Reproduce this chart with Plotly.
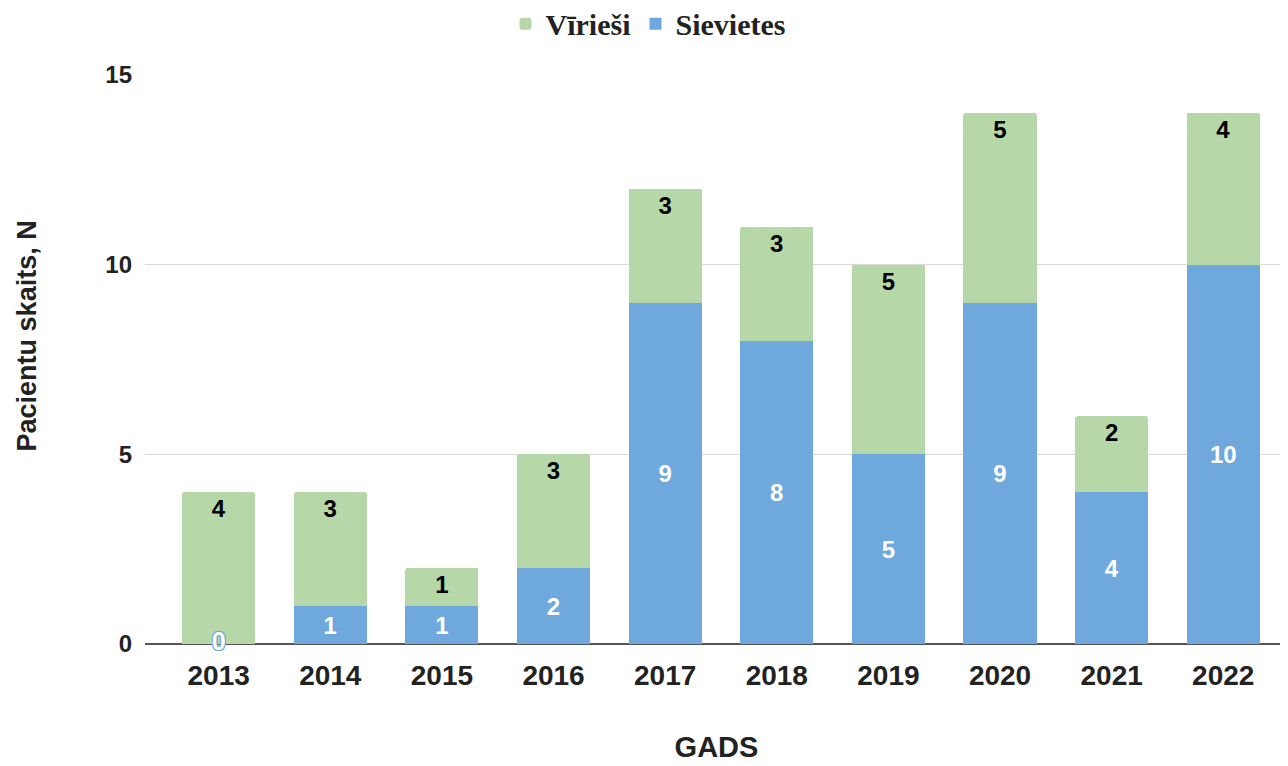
import plotly.graph_objects as go

years = ["2013", "2014", "2015", "2016", "2017", "2018", "2019", "2020", "2021", "2022"]
sievietes = [0, 1, 1, 2, 9, 8, 5, 9, 4, 10]
virieši = [4, 3, 1, 3, 3, 3, 5, 5, 2, 4]

BLUE = "#6fa8dc"
GREEN = "#b6d7a8"
SANS = "Arial, Liberation Sans"

fig = go.Figure()
fig.add_trace(go.Bar(
    x=years, y=sievietes, name="Sievietes",
    marker=dict(color=BLUE, line=dict(width=0)),
    text=[str(v) if v else "" for v in sievietes],
    textposition="inside", insidetextanchor="middle",
    textfont=dict(family=SANS, size=24, color="white", weight="bold"),
    constraintext="none",
))
fig.add_trace(go.Bar(
    x=years, y=virieši, name="Vīrieši",
    marker=dict(color=GREEN, line=dict(width=0), cornerradius=2),
    text=[str(v) for v in virieši],
    textposition="inside", insidetextanchor="end",
    textfont=dict(family=SANS, size=24, color="black", weight="bold"),
    constraintext="none",
))
zx = [y for y, v in zip(years, sievietes) if v == 0]
zy = [v for v in sievietes if v == 0]
sh = ", ".join(f"{a}px {b}px 0 {BLUE}" for a, b in [(1, 1), (-1, -1), (1, -1), (-1, 1), (0, 1), (0, -1), (1, 0), (-1, 0)])
fig.add_trace(go.Scatter(
    x=zx, y=zy, mode="text", text=[str(v) for v in zy], showlegend=False,
    textposition="middle center", cliponaxis=False, hoverinfo="skip",
    textfont=dict(family=SANS, size=25, color="white", weight="bold", shadow=sh),
))

fig.update_layout(
    width=1280, height=758,
    barmode="stack", bargap=0.345,
    plot_bgcolor="white", paper_bgcolor="white",
    margin=dict(l=137, r=0, t=67, b=122, autoexpand=False),
    legend=dict(orientation="h", xref="container", x=0.5, xanchor="center",
                yref="paper", y=1.09, yanchor="middle", traceorder="reversed",
                font=dict(family="Liberation Serif, Times New Roman, serif", size=30, color="#222", weight="bold"),
                itemwidth=30),
    xaxis=dict(
        type="category", range=[-0.66, 9.58],
        tickfont=dict(family=SANS, size=28, color="#222", weight="bold"),
        ticks="", showgrid=False, showline=False, ticklabelstandoff=12,
        title=dict(text="GADS", standoff=46,
                   font=dict(family=SANS, size=29, color="#222", weight="bold")),
    ),
    yaxis=dict(
        range=[0, 15], tickvals=[0, 5, 10, 15],
        tickfont=dict(family=SANS, size=24, color="#222", weight="bold"),
        ticks="", showgrid=True, gridcolor="#d9d9d9", gridwidth=1,
        zeroline=True, zerolinecolor="#555555", zerolinewidth=1.5,
        ticklabelstandoff=12, showline=False,
    ),
    annotations=[dict(
        text="Pacientu skaits, N", textangle=-90,
        xref="paper", yref="paper", x=-0.103, y=0.541,
        xanchor="center", yanchor="middle", showarrow=False,
        font=dict(family=SANS, size=27, color="#222", weight="bold"),
    )],
)

fig.write_html("out.html")
